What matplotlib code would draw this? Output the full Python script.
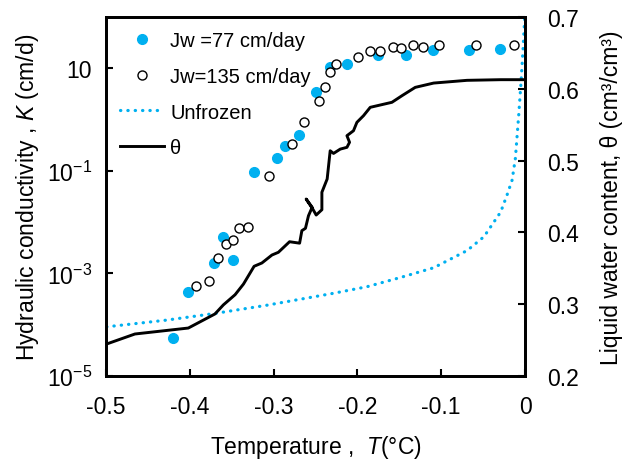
import matplotlib
matplotlib.use('Agg')
import matplotlib.pyplot as plt

plt.rcParams['font.family'] = ['Liberation Sans', 'DejaVu Sans']
plt.rcParams['mathtext.fontset'] = 'custom'
plt.rcParams['mathtext.rm'] = 'Liberation Sans'
plt.rcParams['mathtext.it'] = 'Liberation Sans:italic'
plt.rcParams['axes.unicode_minus'] = False

# # # DATA # # #
# Jw = 77 cm/day (filled)
t_77 = [-0.4205, -0.4025, -0.371, -0.360, -0.348, -0.323, -0.296, -0.286, -0.270,
        -0.250, -0.233, -0.212, -0.176, -0.142, -0.110, -0.067, -0.030]
k_77 = [5.4e-5, 4.4e-4, 1.6e-3, 5.2e-3, 1.8e-3, 0.093, 0.18, 0.30, 0.50,
        3.5, 10.7, 12.3, 17.8, 18.2, 22.4, 22.9, 23.4]

# Jw = 135 cm/day (open)
t_135 = [-0.3926, -0.377, -0.366, -0.357, -0.349, -0.341, -0.330, -0.305, -0.2775,
         -0.264, -0.2456, -0.2385, -0.2325, -0.2253, -0.1995, -0.185, -0.1736, -0.157,
         -0.1477, -0.134, -0.122, -0.1027, -0.059, -0.013]
k_135 = [5.6e-4, 7.2e-4, 2.0e-3, 3.7e-3, 4.5e-3, 7.6e-3, 8.1e-3, 0.078, 0.33,
         0.88, 2.3, 4.4, 8.3, 12.0, 16.6, 21.4, 21.4, 25.7,
         24.5, 28.5, 26.3, 28.5, 28.2, 28.5]

# unfrozen conductivity curve
t_unf = [-0.4993, -0.4276, -0.370, -0.308, -0.2286, -0.1887, -0.149, -0.109, -0.069,
         -0.049, -0.029, -0.0214, -0.0154, -0.0115, -0.0075, -0.0047, -0.0023, -0.0004]
k_unf = [9.1e-5, 1.23e-4, 1.66e-4, 2.4e-4, 4.1e-4, 5.5e-4, 8.3e-4, 1.29e-3, 2.8e-3,
         5.2e-3, 0.0158, 0.034, 0.066, 0.175, 1.23, 5.5, 24.5, 95]

# liquid water content theta
t_theta = [-0.4992, -0.4655, -0.4018, -0.370, -0.360, -0.346, -0.336, -0.3233, -0.314,
           -0.302, -0.2943, -0.281, -0.269, -0.2663, -0.262, -0.2584, -0.254, -0.2612,
           -0.2528, -0.2492, -0.2424, -0.2424, -0.2361, -0.2325, -0.2285, -0.2205,
           -0.2125, -0.2094, -0.2125, -0.2047, -0.2006, -0.1927, -0.1847, -0.1588,
           -0.1468, -0.131, -0.109, -0.0692, -0.029, 0.0]
theta = [0.2446, 0.2585, 0.2668, 0.2864, 0.299, 0.3132, 0.328, 0.3528, 0.3574,
         0.3685, 0.3723, 0.387, 0.385, 0.4024, 0.4057, 0.4232, 0.435, 0.4465,
         0.4316, 0.4242, 0.4316, 0.4559, 0.4744, 0.5137, 0.510, 0.516,
         0.5185, 0.5255, 0.5347, 0.5416, 0.5533, 0.5626, 0.5742, 0.5812,
         0.5904, 0.602, 0.608, 0.6118, 0.6127, 0.6127]

x_ticks = [-0.5, -0.4, -0.3, -0.2, -0.1, 0]
x_labels = ['-0.5', '-0.4', '-0.3', '-0.2', '-0.1', '0']
k_ticks = [1e-5, 1e-3, 1e-1, 1e1]
k_labels = ['10$^{-5}$', '10$^{-3}$', '10$^{-1}$', '10']
th_ticks = [0.2, 0.3, 0.4, 0.5, 0.6, 0.7]
th_labels = ['0.2', '0.3', '0.4', '0.5', '0.6', '0.7']

blue = '#00B0F0'
fs = 16.5

# # # GRAFICO # # #
fig = plt.figure(figsize=(6.33, 4.64), dpi=100)
ax = fig.add_axes([0.1675, 0.1875, 0.6619, 0.7737])
ax2 = ax.twinx()

p_unf, = ax.plot(t_unf, k_unf, color=blue, lw=2.3, ls=(0, (0.1, 2.2)),
                 dash_capstyle='round')
p77, = ax.plot(t_77, k_77, 'o', color=blue, ms=7, mec=blue, ls='none')
p135, = ax.plot(t_135, k_135, 'o', mfc='white', mec='black', mew=1.0, ms=6.5, ls='none')
p_th, = ax2.plot(t_theta, theta, '-', color='black', lw=2.1)

ax.set_yscale('log')
ax.set_xlim(-0.5, 0)
ax.set_ylim(1e-5, 1e2)
ax2.set_ylim(0.2, 0.7)

ax.set_xticks(x_ticks)
ax.set_xticklabels(x_labels)
ax.set_yticks(k_ticks)
ax.set_yticklabels(k_labels)
ax.yaxis.set_minor_locator(matplotlib.ticker.NullLocator())
ax2.set_yticks(th_ticks)
ax2.set_yticklabels(th_labels)

ax.tick_params(axis='both', which='both', direction='in', length=5, width=1.5,
               labelsize=fs, top=False, right=False)
ax.tick_params(axis='x', pad=14)
ax.tick_params(axis='y', pad=10)
ax2.tick_params(axis='y', direction='in', length=5, width=1.5, labelsize=fs, pad=16)

for a in (ax, ax2):
    for s in a.spines.values():
        s.set_linewidth(2.0)

ax.set_xlabel('Temperature ,  $T$(\u00b0C)', fontsize=fs)
ax.set_ylabel('Hydraulic conductivity , $K$ (cm/d)', fontsize=fs)
ax2.set_ylabel('Liquid water content, \u03b8 (cm\u00b3/cm\u00b3)', fontsize=fs)
ax.xaxis.set_label_coords(0.5, -0.16)
ax.yaxis.set_label_coords(-0.155, 0.5)
ax2.yaxis.set_label_coords(1.179, 0.5)

ax2.legend([p77, p135, p_unf, p_th],
           ['Jw =77 cm/day', 'Jw=135 cm/day', 'Unfrozen', '\u03b8'],
           loc='upper left', frameon=False, fontsize=14.5, handlelength=2.2,
           handletextpad=0.3, labelspacing=0.83, borderaxespad=0.3)

fig.savefig('out.png', dpi=100)
